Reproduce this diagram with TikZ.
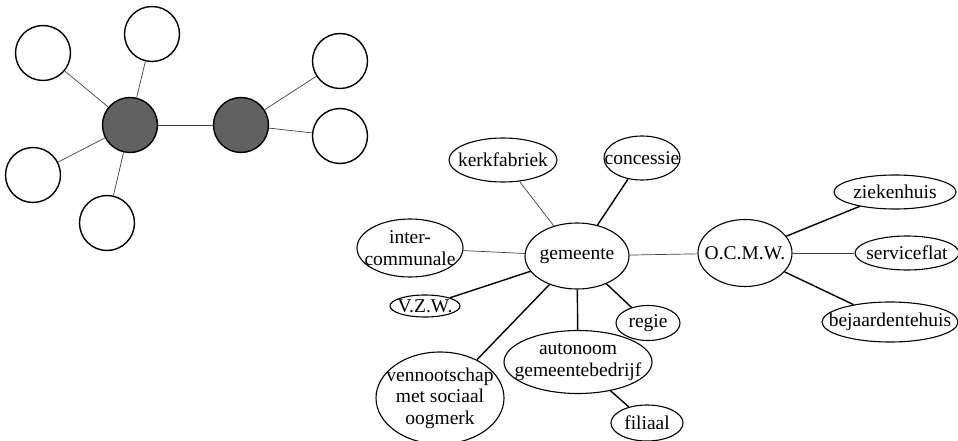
\documentclass[tikz,border=0pt]{standalone}
\usepackage{fontspec}
\setmainfont{Liberation Serif}
\usetikzlibrary{shapes.geometric}

\begin{document}
\begin{tikzpicture}[x=1pt,y=-1pt,
  leeg/.style={circle,draw,line width=1.4pt,minimum size=55pt,inner sep=0pt},
  kern/.style={leeg,fill=black!62},
  dun/.style={line width=0.7pt,black!75},
  org/.style={ellipse,draw,line width=1.1pt,inner sep=0pt},
  tekst/.style={align=center,inner sep=0pt,font=\fontsize{19.5}{21.5}\selectfont},
  band/.style={line width=1.4pt}]
\useasboundingbox (0,0) rectangle (958,441);
% schema links
\node[kern] (k1) at (130,125) {};
\node[kern] (k2) at (241,125) {};
\node[leeg] (c1) at (43,53) {};
\node[leeg] (c2) at (152,34) {};
\node[leeg] (c3) at (33,175) {};
\node[leeg] (c4) at (107,223) {};
\node[leeg] (c5) at (340,61) {};
\node[leeg] (c6) at (340,136) {};
\draw[dun] (k1) -- (k2);
\foreach \c in {c1,c2,c3,c4} \draw[dun] (k1) -- (\c);
\foreach \c in {c5,c6} \draw[dun] (k2) -- (\c);
% gemeente en O.C.M.W.
\node[org,minimum width=104pt,minimum height=66pt,label={[tekst]center:gemeente}] (gem) at (577,256) {};
\node[org,minimum width=108pt,minimum height=44pt,label={[tekst]center:kerkfabriek}] (kerk) at (503,160) {};
\node[org,minimum width=76pt,minimum height=44pt,label={[tekst]center:concessie}] (conc) at (642,158) {};
\node[org,minimum width=106pt,minimum height=58pt,label={[tekst]center:inter-\\communale}] (inter) at (410,248) {};
\node[org,minimum width=70pt,minimum height=22pt,label={[tekst]center:V.Z.W.}] (vzw) at (425,306) {};
\node[org,minimum width=64pt,minimum height=35pt,label={[tekst]center:regie}] (regie) at (648,323) {};
\node[org,minimum width=148pt,minimum height=63pt,label={[tekst]center:autonoom\\gemeentebedrijf}] (agb) at (578,362) {};
\node[org,minimum width=128pt,minimum height=92pt,label={[tekst]center:vennootschap\\met sociaal\\oogmerk}] (vso) at (440,398) {};
\node[org,minimum width=72pt,minimum height=36pt,label={[tekst]center:filiaal}] (fil) at (647,423) {};
\node[org,minimum width=94pt,minimum height=67pt,label={[tekst]center:O.C.M.W.}] (ocmw) at (745,253) {};
\node[org,minimum width=122pt,minimum height=34pt,label={[tekst]center:ziekenhuis}] (zh) at (895,192) {};
\node[org,minimum width=104pt,minimum height=34pt,label={[tekst]center:serviceflat}] (sf) at (907,253) {};
\node[org,minimum width=136pt,minimum height=40pt,label={[tekst]center:bejaardentehuis}] (bj) at (890,322) {};
\draw[dun] (gem) -- (kerk);
\draw[band] (gem) -- (conc);
\draw[dun] (gem) -- (inter);
\draw[band] (gem) -- (vzw);
\draw[band] (gem) -- (vso);
\draw[band] (gem) -- (agb);
\draw[band] (gem) -- (regie);
\draw[dun] (gem) -- (ocmw);
\draw[band] (agb) -- (fil);
\draw[band] (ocmw) -- (zh);
\draw[dun] (ocmw) -- (sf);
\draw[band] (ocmw) -- (bj);
\end{tikzpicture}
\end{document}
